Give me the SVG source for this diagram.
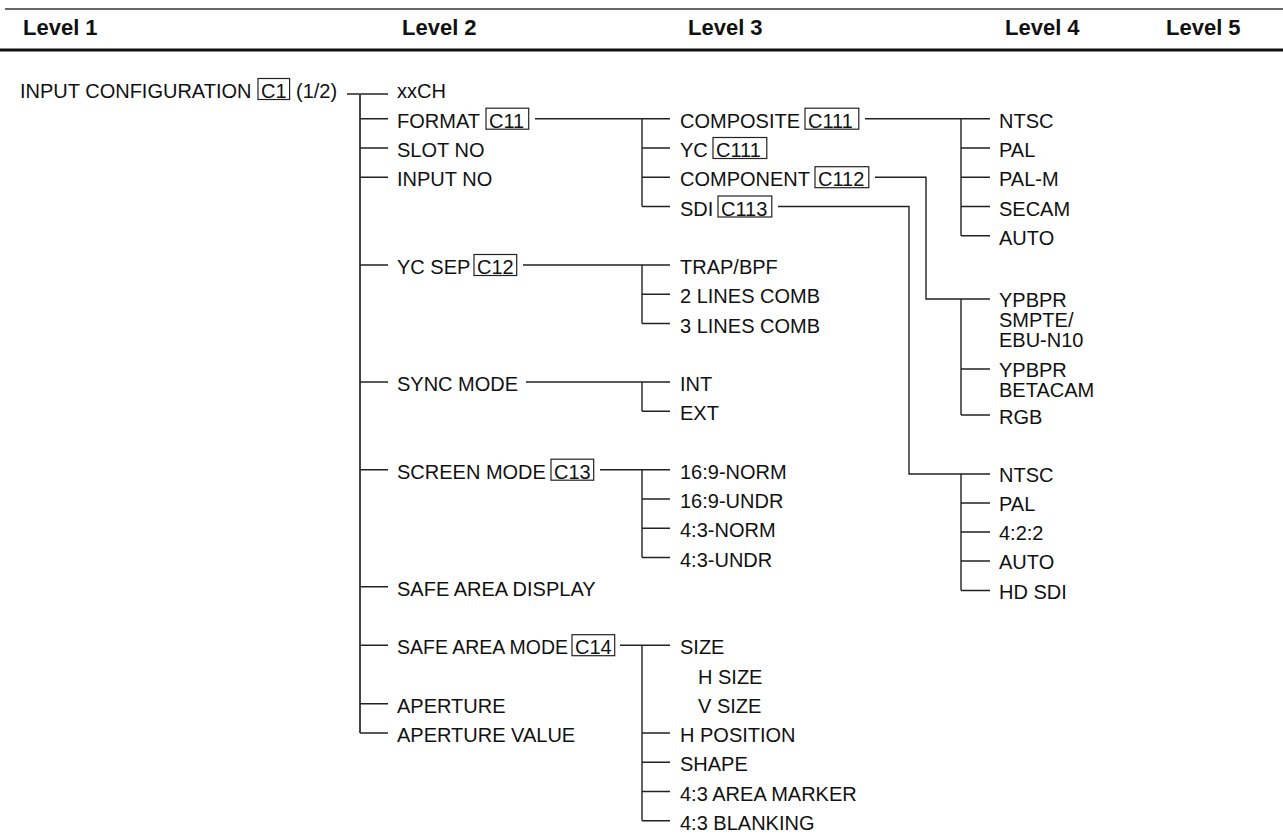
<svg xmlns="http://www.w3.org/2000/svg" width="1283" height="838" viewBox="0 0 1283 838">
<style>
.t{font-family:"Liberation Sans",Arial,Helvetica,sans-serif;font-size:20px;fill:#111}
.h{font-family:"Liberation Sans",Arial,Helvetica,sans-serif;font-size:22px;font-weight:bold;fill:#111}
.ln{stroke:#222;stroke-width:1.4;fill:none}
.trunk{stroke:#444;stroke-width:2;fill:none}
.bx{stroke:#222;stroke-width:1.2;fill:none}
</style>
<rect width="1283" height="838" fill="#fff"/>
<g id="header">
<line x1="5" y1="9" x2="1283" y2="9" stroke="#333" stroke-width="1.5"/>
<line x1="0" y1="50" x2="1283" y2="50" stroke="#111" stroke-width="3"/>
<text class="h" x="23" y="35">Level 1</text>
<text class="h" x="402" y="35">Level 2</text>
<text class="h" x="688" y="35">Level 3</text>
<text class="h" x="1005" y="35">Level 4</text>
<text class="h" x="1166" y="35">Level 5</text>
</g>
<g id="connectors">
<line class="ln" x1="347" y1="94" x2="388" y2="94"/>
<line class="trunk" x1="360" y1="94" x2="360" y2="733"/>
<path class="ln" d="M360 118.7H388M360 148H388M360 177.2H388M360 265H388M360 382H388M360 469.7H388M360 586.7H388M360 645.2H388M360 703.7H388M360 733H388"/>
<path class="ln" d="M535 118.7H670M642 118.7V206.5M642 148H670M642 177.2H670M642 206.5H670"/>
<path class="ln" d="M523 265H670M642 265V323.5M642 294.2H670M642 323.5H670"/>
<path class="ln" d="M526 382H670M642 382V411.2M642 411.2H670"/>
<path class="ln" d="M600 469.7H670M642 469.7V557.5M642 499H670M642 528.2H670M642 557.5H670"/>
<path class="ln" d="M620 645.2H670M642 645.2V820.7M642 733H670M642 762.2H670M642 791.5H670M642 820.7H670"/>
<path class="ln" d="M865 118.7H990M961 118.7V235.7M961 148H990M961 177.2H990M961 206.5H990M961 235.7H990"/>
<path class="ln" d="M875 177.2H926V299H990M961 299V415M961 369H990M961 415H990"/>
<path class="ln" d="M778 206.5H909V474H990M961 474V590.5M961 503H990M961 532H990M961 561H990M961 590.5H990"/>
</g>
<g id="n-input-configuration">
<text class="t" x="20" y="98">INPUT CONFIGURATION</text>
<rect class="bx" x="258" y="78.5" width="31.6" height="21"/>
<text class="t" x="261" y="98">C1</text>
<text class="t" x="296" y="98">(1/2)</text>
</g>
<g id="n-xxch"><text class="t" x="397" y="98">xxCH</text></g>
<g id="n-format"><text class="t" x="397" y="127.7">FORMAT</text><rect class="bx" x="486" y="108.2" width="42.7" height="21"/><text class="t" x="489" y="127.7">C11</text></g>
<g id="n-slot-no"><text class="t" x="397" y="157">SLOT NO</text></g>
<g id="n-input-no"><text class="t" x="397" y="186.2">INPUT NO</text></g>
<g id="n-yc-sep"><text class="t" x="397" y="274">YC SEP</text><rect class="bx" x="474" y="254.5" width="42.7" height="21"/><text class="t" x="477" y="274">C12</text></g>
<g id="n-sync-mode"><text class="t" x="397" y="391">SYNC MODE</text></g>
<g id="n-screen-mode"><text class="t" x="397" y="478.7">SCREEN MODE</text><rect class="bx" x="551" y="459.2" width="42.7" height="21"/><text class="t" x="554" y="478.7">C13</text></g>
<g id="n-safe-area-display"><text class="t" x="397" y="595.7">SAFE AREA DISPLAY</text></g>
<g id="n-safe-area-mode"><text class="t" x="397" y="654.2" textLength="171" lengthAdjust="spacingAndGlyphs">SAFE AREA MODE</text><rect class="bx" x="572" y="634.7" width="42.7" height="21"/><text class="t" x="575" y="654.2">C14</text></g>
<g id="n-aperture"><text class="t" x="397" y="712.7">APERTURE</text></g>
<g id="n-aperture-value"><text class="t" x="397" y="742">APERTURE VALUE</text></g>
<g id="n-composite"><text class="t" x="680" y="127.7">COMPOSITE</text><rect class="bx" x="805" y="108.2" width="53.8" height="21"/><text class="t" x="808" y="127.7">C111</text></g>
<g id="n-yc"><text class="t" x="680" y="157">YC</text><rect class="bx" x="713" y="137.5" width="53.8" height="21"/><text class="t" x="716" y="157">C111</text></g>
<g id="n-component"><text class="t" x="680" y="186.2">COMPONENT</text><rect class="bx" x="815" y="166.7" width="53.8" height="21"/><text class="t" x="818" y="186.2">C112</text></g>
<g id="n-sdi"><text class="t" x="680" y="215.5">SDI</text><rect class="bx" x="718" y="196" width="53.8" height="21"/><text class="t" x="721" y="215.5">C113</text></g>
<g id="n-trap-bpf"><text class="t" x="680" y="274">TRAP/BPF</text></g>
<g id="n-2-lines-comb"><text class="t" x="680" y="303.2">2 LINES COMB</text></g>
<g id="n-3-lines-comb"><text class="t" x="680" y="332.5">3 LINES COMB</text></g>
<g id="n-int"><text class="t" x="680" y="391">INT</text></g>
<g id="n-ext"><text class="t" x="680" y="420.2">EXT</text></g>
<g id="n-16-9-norm"><text class="t" x="680" y="478.7">16:9-NORM</text></g>
<g id="n-16-9-undr"><text class="t" x="680" y="508">16:9-UNDR</text></g>
<g id="n-4-3-norm"><text class="t" x="680" y="537.2">4:3-NORM</text></g>
<g id="n-4-3-undr"><text class="t" x="680" y="566.5">4:3-UNDR</text></g>
<g id="n-size"><text class="t" x="680" y="654.2">SIZE</text><text class="t" x="698" y="683.5">H SIZE</text><text class="t" x="698" y="712.7">V SIZE</text></g>
<g id="n-h-position"><text class="t" x="680" y="742">H POSITION</text></g>
<g id="n-shape"><text class="t" x="680" y="771.2">SHAPE</text></g>
<g id="n-4-3-area-marker"><text class="t" x="680" y="800.5">4:3 AREA MARKER</text></g>
<g id="n-4-3-blanking"><text class="t" x="680" y="829.7">4:3 BLANKING</text></g>
<g id="n-c-ntsc"><text class="t" x="999" y="127.7">NTSC</text></g>
<g id="n-c-pal"><text class="t" x="999" y="157">PAL</text></g>
<g id="n-c-pal-m"><text class="t" x="999" y="186.2">PAL-M</text></g>
<g id="n-c-secam"><text class="t" x="999" y="215.5">SECAM</text></g>
<g id="n-c-auto"><text class="t" x="999" y="244.7">AUTO</text></g>
<g id="n-ypbpr-smpte"><text class="t" x="999" y="307">YPBPR</text><text class="t" x="999" y="327">SMPTE/</text><text class="t" x="999" y="347">EBU-N10</text></g>
<g id="n-ypbpr-betacam"><text class="t" x="999" y="377">YPBPR</text><text class="t" x="999" y="397">BETACAM</text></g>
<g id="n-rgb"><text class="t" x="999" y="424">RGB</text></g>
<g id="n-s-ntsc"><text class="t" x="999" y="482">NTSC</text></g>
<g id="n-s-pal"><text class="t" x="999" y="511">PAL</text></g>
<g id="n-s-422"><text class="t" x="999" y="540">4:2:2</text></g>
<g id="n-s-auto"><text class="t" x="999" y="569">AUTO</text></g>
<g id="n-s-hd-sdi"><text class="t" x="999" y="598.5">HD SDI</text></g>
</svg>
